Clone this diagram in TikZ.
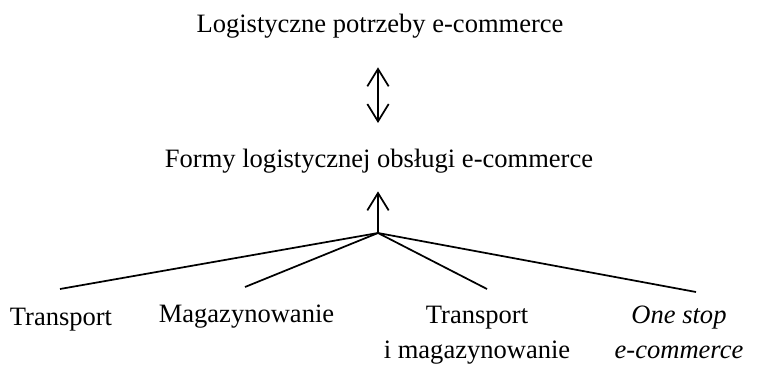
\documentclass[tikz,border=0pt]{standalone}
\usepackage{fontspec}
\setmainfont{Liberation Serif}
\usetikzlibrary{arrows.meta}

\tikzstyle{lbl} = [inner sep=0pt, anchor=base, font=\fontsize{19.9}{26.25}\selectfont]
\tikzstyle{ln} = [line width=1.3pt]
\tikzstyle{barb} = [ln, -{Straight Barb[length=13pt, width=16pt]}]

\begin{document}
\begin{tikzpicture}[x=0.75pt, y=-0.75pt]
\useasboundingbox (0,0) rectangle (767,364);
\node[lbl] (need) at (380,32) {Logistyczne potrzeby e-commerce};
\node[lbl] (form) at (379,167) {Formy logistycznej obsługi e-commerce};
\coordinate (hub) at (378,233);
\node[lbl] (trans) at (61,325) {Transport};
\node[lbl] (magaz) at (246.5,322) {Magazynowanie};
% base anchor sits on the last line here
\node[lbl, align=center] (transmag) at (477,358) {Transport\\i magazynowanie};
\node[lbl, align=center, font=\fontsize{19.9}{26.25}\selectfont\itshape] (onestop) at (679,358) {One stop\\e-commerce};
\coordinate (e1) at (60,289);
\coordinate (e2) at (245,287);
\coordinate (e3) at (487,289);
\coordinate (e4) at (696,292);

\draw[ln, {Straight Barb[length=13pt, width=16pt]}-{Straight Barb[length=13pt, width=16pt]},
    shorten <=22pt, shorten >=19pt]
    (need.south -| hub) -- (form.north -| hub);
\draw[barb, shorten >=13.8pt] (hub) -- (form.south -| hub);
\foreach \e in {e1,e2,e3,e4}
    \draw[ln] (hub) -- (\e);
\end{tikzpicture}
\end{document}
